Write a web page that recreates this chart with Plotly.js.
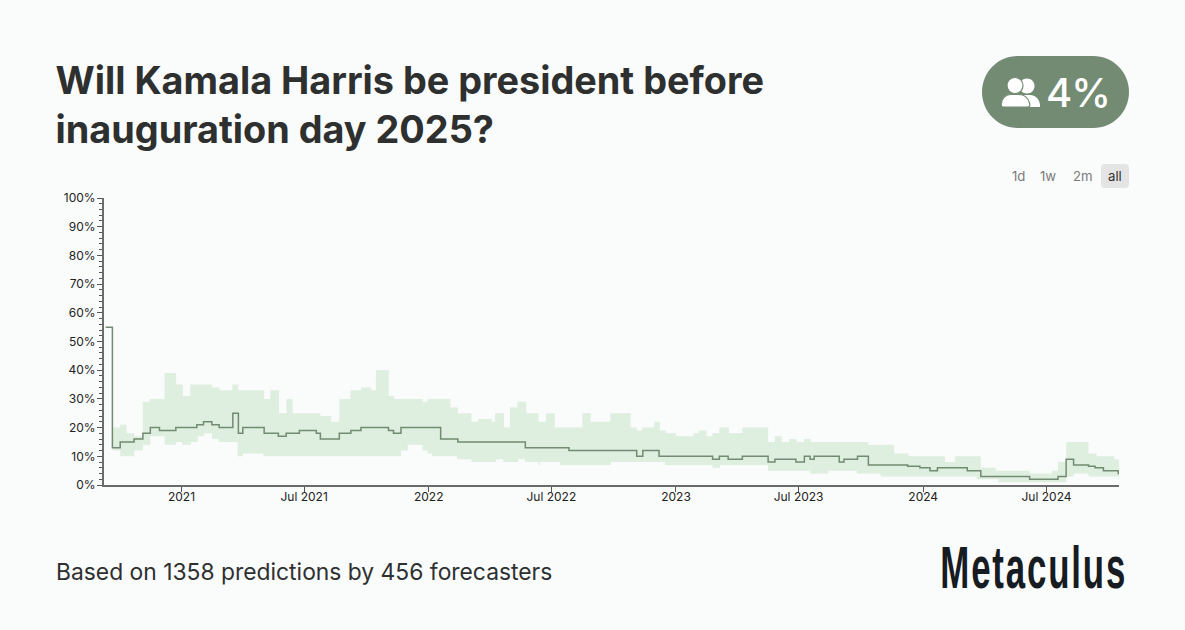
<!DOCTYPE html>
<html><head><meta charset="utf-8">
<script src="https://cdn.plot.ly/plotly-3.0.1.min.js"></script>
<style>html,body{margin:0;padding:0;background:#fafbfb}#chart{width:1185px;height:630px}</style>
</head><body><div id="chart"></div>
<script>
// All x values are days since 2021-01-01.
const lineDays = [-112,-102,-90.5,-70,-57,-46,-32.5,-8.4,22.6,32.5,44.8,55.6,75.8,84,90.5,122,143,154.5,174,199,205,233,250,265,305.6,313,324,382.6,408,507.6,572,672,681,705,784,794,807,828,866,876,907,919.5,928,934,971,978,998,1014,1072,1090,1105,1116,1160,1180,1252,1294,1306,1317,1339,1348.6,1361,1383,1384.5];
const lineValues = [55,13,15,16,18,20,19,20,21,22,21,20,25,18,20,18,17,18,19,18,16,18,19,20,19,18,20,16,15,13,12,10,12,10,9,10,9,10,8,9,8,10,9,10,8,9,10,7,6.5,6,5,6,5,3,2,3,9,7,6.5,6,5,4,4];
const upperDays = [-102,-90.5,-81,-70,-57,-47,-25,-8,2,13,45,56,75,84,122,131,144,155,164,205,221,233,249.5,265,280,287,306,314,356,363,397,408,428,438,458,463,476,485,496,509,527,538,551,592,604,633,663,672,680,698,706,715,730,756,764,775,784,794,808,828,866,876,886,897,908,919,929,1014,1052,1073,1127,1142,1180,1202,1252,1285,1294,1306,1339,1351,1377,1384.5];
const upperValues = [20,21,18,17,29,30,39,35,31,35,34,33,35,33,30,33,25,30,25,24,22,30,33,34,33,40,31,30,29,30,27,25,22,23,22,25,20,27,29,25,22,25,20,25,22,25,20,19,20,22,19,18,17,18,19,17,18,20,18,20,15,17,15,16,15,16,15,14,11,10,8,10,6,5,4,5,8,15,11,10,9,9];
const lowerDays = [-102,-90.5,-70,-57,-46,-25,-8,1,14,24,33,45,55,83,90.5,121,324,334,356,363,370,407,428,464,475,497,507,527,529,559,634,714,784,795,866,928,955,997,1032,1174,1206,1306,1317,1339,1383,1384.5];
const lowerValues = [12,10,12,14,17,14,15,14,15,17,18,16,15,10,11,10,12,14,12,11,10,9,8,9,8,9,8,7,8,7,8,7,6,7,5,4,5,4,3,2,1,3,4,3,2,2];
const xTickVals = ['2021-01-01','2021-07-01','2022-01-01','2022-07-01','2023-01-01','2023-07-01','2024-01-01','2024-07-01'];
const xTickText = ['2021','Jul 2021','2022','Jul 2022','2023','Jul 2023','2024','Jul 2024'];
const titleText = 'Will Kamala Harris be president before<br>inauguration day 2025?';
const footerText = 'Based on 1358 predictions by 456 forecasters';
const rangeLabels = ['1d','1w','2m','all'];
const communityValue = '4%';

const W = 1185, H = 630;
const toDate = d => new Date(Date.UTC(2021,0,1) + d*86400000).toISOString().slice(0,19);
const px = x => x/W, py = y => 1 - y/H;
const P = s => s.replace(/(-?[\d.]+),(-?[\d.]+)/g,(m,a,b)=>px(+a).toFixed(5)+','+py(+b).toFixed(5));
const paperShape = (path, fill, extra) => Object.assign({type:'path',xref:'paper',yref:'paper',path:P(path),fillcolor:fill,line:{width:0},layer:'above'},extra||{});
const pill = '#738b72', ink = '#2e3030';

const traces = [
 {x:lowerDays.map(toDate),y:lowerValues,mode:'lines',line:{shape:'hv',width:0,color:'rgba(0,0,0,0)'},hoverinfo:'skip',showlegend:false},
 {x:upperDays.map(toDate),y:upperValues,mode:'lines',line:{shape:'hv',width:0,color:'rgba(0,0,0,0)'},fill:'tonexty',fillcolor:'#deeedf',hoverinfo:'skip',showlegend:false},
 {x:lineDays.map(toDate),y:lineValues,mode:'lines',line:{shape:'hv',width:1.5,color:'#738b72'},showlegend:false}
];
const shapes = [
 paperShape('M1018,56 L1093,56 C1113,56 1129,72 1129,92 C1129,112 1113,128 1093,128 L1018,128 C998,128 982,112 982,92 C982,72 998,56 1018,56 Z',pill),
 paperShape('M1027,78.5 C1031.5,78.5 1034.5,82 1034.5,86 C1034.5,90 1031.5,93.5 1027,93.5 C1022.5,93.5 1019.5,90 1019.5,86 C1019.5,82 1022.5,78.5 1027,78.5 Z','#ffffff'),
 paperShape('M1024,107 L1040,107 C1040.5,100 1036,95 1030,95 L1022,95 C1018,95 1018,107 1024,107 Z','#ffffff'),
 paperShape('M1015,77.5 C1019.8,77.5 1023,81.2 1023,85.5 C1023,89.8 1019.8,93.5 1015,93.5 C1010.2,93.5 1007,89.8 1007,85.5 C1007,81.2 1010.2,77.5 1015,77.5 Z','#ffffff',{line:{width:1.2,color:pill}}),
 paperShape('M1003,107 L1028,107 C1030,107 1030,105 1029.5,103 C1028,98 1024,94.5 1019,94.5 L1011,94.5 C1006,94.5 1002,98 1001.5,103 C1001,105 1001,107 1003,107 Z','#ffffff',{line:{width:1.2,color:pill}}),
 paperShape('M1105,164 L1125,164 C1127.5,164 1129,165.5 1129,168 L1129,184 C1129,186.5 1127.5,188 1125,188 L1105,188 C1102.5,188 1101,186.5 1101,184 L1101,168 C1101,165.5 1102.5,164 1105,164 Z','#e4e4e4',{layer:'below'})
];
const note = (text,x,y,size,color,anchor,extra) => Object.assign({text,x:px(x),y:py(y),xref:'paper',yref:'paper',xanchor:anchor||'center',yanchor:'middle',showarrow:false,font:{family:'Inter, sans-serif',size,color}},extra||{});
const rangeX = [1018,1048,1083,1115];
const valueNote = note(communityValue,1077.5,92,40,'#ffffff');
valueNote.font.weight = 500;
const annotations = [
 valueNote,
 note(footerText,54,571.5,22.85,ink,'left'),
 {text:'<b>Metaculus</b>',x:px(1033),y:py(567),xref:'paper',yref:'paper',xanchor:'center',yanchor:'middle',showarrow:false,font:{family:'"Liberation Sans", sans-serif',size:60,color:'#161c22'}}
].concat(rangeLabels.map((t,i)=>note(t,rangeX[i],176,13.2,i===3?'#333333':'#7a7a7a')));

const layout = {
 width:W,height:H,paper_bgcolor:'#fafbfb',plot_bgcolor:'#fafbfb',
 margin:{l:0,r:0,t:0,b:0},showlegend:false,hovermode:false,
 title:{text:titleText,x:55.5/W,xanchor:'left',y:py(94),yanchor:'middle',font:{family:'Inter, sans-serif',size:37.8,weight:700,color:ink}},
 xaxis:{type:'date',domain:[px(104),px(1119)],range:[toDate(-114.4),toDate(1384)],tickmode:'array',tickvals:xTickVals,ticktext:xTickText,ticks:'outside',ticklen:5,tickwidth:1,tickcolor:'#555',showgrid:false,zeroline:false,showline:true,linecolor:'#6b6b6b',linewidth:2,tickfont:{family:'Inter, sans-serif',size:12,color:'#222'},ticklabelstandoff:-5,anchor:'y'},
 yaxis:{domain:[py(485),py(198)],range:[0,100],dtick:10,ticksuffix:'%',ticks:'outside',ticklen:5,tickwidth:1,tickcolor:'#555',showgrid:false,zeroline:false,showline:true,linecolor:'#6b6b6b',linewidth:2,tickfont:{family:'Inter, sans-serif',size:12,color:'#222'},ticklabelstandoff:-1,minor:{dtick:2,ticks:'outside',ticklen:3,tickwidth:1,tickcolor:'#555',showgrid:false},anchor:'x'},
 shapes,annotations
};
Plotly.newPlot('chart',traces,layout,{displayModeBar:false,staticPlot:true}).then(()=>{
  // The wordmark is a condensed, spaced face: squeeze it horizontally around its centre.
  document.querySelectorAll('.annotation-text').forEach(t=>{
    if(t.textContent==='Metaculus'){
      t.style.letterSpacing='3.2px';
      const b=t.getBBox(), cx=b.x+b.width/2;
      t.setAttribute('transform',`translate(${cx},0) scale(0.58,1) translate(${-cx},0)`);
    }
    if(t.textContent==='4%'){ t.style.letterSpacing='-1px'; }
  });
});
</script></body></html>
